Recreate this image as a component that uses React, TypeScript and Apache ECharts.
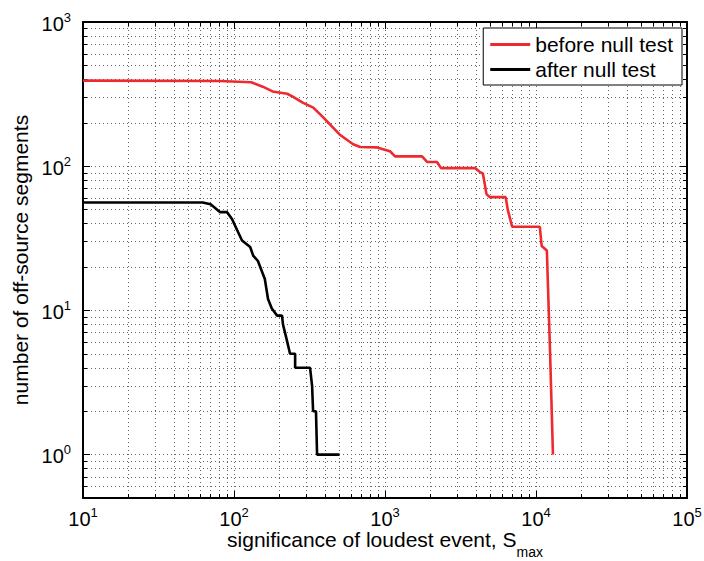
import React, { useEffect, useRef } from "react";
import * as echarts from "echarts";

// ---- data ----
const seriesNames = ["before null test", "after null test"];

const beforeS = [10, 80, 130, 155, 180, 225, 245, 285, 335, 390, 500, 615, 685, 885, 1080, 1165, 1760, 1900, 2210, 2350, 3950, 4250, 4450, 4700, 4950, 6300, 6500, 6950, 10600, 10900, 11800, 12400, 12950];
const beforeN = [392, 390, 382, 356, 330, 318, 304, 276, 255, 218, 166, 142, 136, 135, 127, 117, 117, 107, 107, 97, 97, 91, 89, 64, 61, 61, 50, 38, 38, 28, 26, 5, 1];

const afterS = [10, 62, 70, 81, 90, 97, 105, 113, 128, 134, 144, 160, 168, 178, 193, 208, 211, 224, 235, 254, 254, 319, 329, 334, 349, 355, 500];
const afterN = [56, 56, 54.5, 48, 48, 43, 36, 30.5, 27.5, 24, 22, 16.5, 12, 10.3, 9.2, 9.2, 8, 6.2, 5, 5, 4, 4, 3, 2, 2, 1, 1];

const xTickExponents = [1, 2, 3, 4, 5];
const yTickExponents = [0, 1, 2, 3];

const xMin = 10;
const xMax = 100000;
const yMin = 0.5;
const yMax = 1000;

const FONT = "'Liberation Sans', Arial, Helvetica, sans-serif";

function powLabel(exps: number[]) {
  return (v: number) => {
    const l = Math.log10(v);
    const e = Math.round(l);
    if (Math.abs(l - e) > 1e-6 || exps.indexOf(e) < 0) return "";
    return `{b|10}{s|${e}}`;
  };
}

const labelRich = {
  b: { fontSize: 20, verticalAlign: "bottom", fontFamily: FONT, color: "#000" },
  s: { fontSize: 13, verticalAlign: "top", padding: [0, 0, 10, 0], fontFamily: FONT, color: "#000" },
};

const gridLine = { color: "#666", width: 1, type: [1, 3] };
const boxLine = { show: true, lineStyle: { color: "#000", width: 2 } };
const majorTick = { show: true, inside: true, length: 7, lineStyle: { color: "#000", width: 1 } };
const minorTick = { show: true, splitNumber: 9, length: 4, lineStyle: { color: "#000", width: 1 } };

export default function App() {
  const ref = useRef<HTMLDivElement>(null);
  useEffect(() => {
    const chart = echarts.init(ref.current!, null, { renderer: "svg" });
    const zip = (a: number[], b: number[]) => a.map((v, i) => [v, b[i]]);
    const option: any = {
      animation: false,
      backgroundColor: "#fff",
      textStyle: { fontFamily: FONT, color: "#000" },
      grid: { left: 83, right: 17, top: 22, bottom: 63, containLabel: false, outerBoundsMode: "none" },
      legend: {
        orient: "vertical",
        right: 22,
        top: 28,
        align: "left",
        padding: [6, 9, 5, 7],
        itemGap: 4,
        itemWidth: 40,
        itemHeight: 3,
        icon: "rect",
        backgroundColor: "#fff",
        borderColor: "#000",
        borderWidth: 1,
        borderRadius: 0,
        textStyle: { fontSize: 21, color: "#000", fontFamily: FONT },
        itemTextGap: 5,
        data: seriesNames,
      },
      xAxis: [
        {
          type: "log",
          logBase: 10,
          min: xMin,
          max: xMax,
          position: "bottom",
          axisLine: boxLine,
          axisTick: majorTick,
          minorTick: { ...minorTick },
          splitLine: { show: true, lineStyle: gridLine },
          minorSplitLine: { show: true, lineStyle: gridLine },
          axisLabel: { formatter: powLabel(xTickExponents), margin: 8, rich: labelRich, showMinLabel: true, showMaxLabel: true },
          name: "{t|significance of loudest event, S}{sub|max}",
          nameLocation: "middle",
          nameGap: 31,
          nameMoveOverlap: false,
          nameTextStyle: {
            rich: {
              t: { fontSize: 21, verticalAlign: "top", fontFamily: FONT, color: "#000" },
              sub: { fontSize: 14, verticalAlign: "top", padding: [16, 0, 0, 0], fontFamily: FONT, color: "#000" },
            },
          },
        },
        {
          type: "log",
          logBase: 10,
          min: xMin,
          max: xMax,
          position: "top",
          axisLine: boxLine,
          axisTick: majorTick,
          minorTick: { ...minorTick },
          splitLine: { show: false },
          axisLabel: { show: false },
        },
      ],
      yAxis: [
        {
          type: "log",
          logBase: 10,
          min: yMin,
          max: yMax,
          position: "left",
          axisLine: boxLine,
          axisTick: majorTick,
          minorTick: { ...minorTick },
          splitLine: { show: true, lineStyle: gridLine },
          minorSplitLine: { show: true, lineStyle: gridLine },
          axisLabel: { formatter: powLabel(yTickExponents), margin: 12, rich: labelRich, showMinLabel: true, showMaxLabel: true },
          name: "number of off-source segments",
          nameLocation: "middle",
          nameGap: 52,
          nameMoveOverlap: false,
          nameTextStyle: { fontSize: 21, color: "#000", fontFamily: FONT },
        },
        {
          type: "log",
          logBase: 10,
          min: yMin,
          max: yMax,
          position: "right",
          axisLine: boxLine,
          axisTick: majorTick,
          minorTick: { ...minorTick },
          splitLine: { show: false },
          axisLabel: { show: false },
        },
      ],
      series: [
        {
          name: seriesNames[0],
          type: "line",
          xAxisIndex: 0,
          yAxisIndex: 0,
          data: zip(beforeS, beforeN),
          showSymbol: false,
          symbol: "none",
          color: "#ee2a2e",
          lineStyle: { color: "#ee2a2e", width: 2.6 },
          z: 3,
        },
        {
          name: seriesNames[1],
          type: "line",
          xAxisIndex: 0,
          yAxisIndex: 0,
          data: zip(afterS, afterN),
          showSymbol: false,
          symbol: "none",
          color: "#000",
          lineStyle: { color: "#000", width: 2.6 },
          z: 3,
        },
      ],
    };
    chart.setOption(option);
    return () => chart.dispose();
  }, []);
  return (
    <div
      ref={ref}
      style={{ position: "fixed", left: 0, top: 0, width: 704, height: 561, background: "#fff" }}
    />
  );
}
